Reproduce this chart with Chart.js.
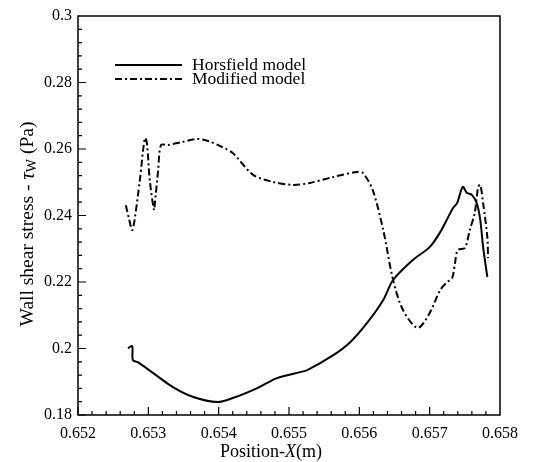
<!DOCTYPE html>
<html>
<head>
<meta charset="utf-8">
<script src="https://cdn.jsdelivr.net/npm/chart.js@4"></script>
<style>
  html, body { margin: 0; padding: 0; background: #fff; }
  #wrap { width: 538px; height: 462px; }
</style>
</head>
<body>
<div id="wrap"><canvas id="wssChart" width="538" height="462"></canvas></div>
<script>
// data
const horsfieldX = [0.65271, 0.65277, 0.65278, 0.65285, 0.65307, 0.65335, 0.65364, 0.65398, 0.65420, 0.65455,
    0.65483, 0.65516, 0.65526, 0.65563, 0.65587, 0.65611, 0.65634, 0.65648, 0.65676, 0.65700,
    0.65715, 0.65733, 0.65739, 0.65747, 0.65753, 0.65760, 0.65767, 0.65772, 0.65776, 0.65782];
const horsfieldY = [0.2001, 0.2007, 0.1965, 0.1959, 0.1926, 0.1884, 0.1854, 0.1839, 0.1851, 0.1881,
    0.1911, 0.1929, 0.1935, 0.1980, 0.2019, 0.2077, 0.2146, 0.2206, 0.2266, 0.2305,
    0.2350, 0.2422, 0.2437, 0.2486, 0.2468, 0.2462, 0.2437, 0.2386, 0.2305, 0.2215];

const modifiedX = [0.65268, 0.65273, 0.65277, 0.65280, 0.65288, 0.65295, 0.65298, 0.65302, 0.65308, 0.65309,
    0.65314, 0.65318, 0.65328, 0.65348, 0.65369, 0.65385, 0.65405, 0.65420, 0.65449, 0.65477,
    0.65506, 0.65530, 0.65563, 0.65597, 0.65605, 0.65619, 0.65634, 0.65648, 0.65662, 0.65683,
    0.65700, 0.65715, 0.65725, 0.65732, 0.65736, 0.65740, 0.65750, 0.65757, 0.65764, 0.65769,
    0.65772, 0.65776, 0.65782, 0.65783];
const modifiedY = [0.2431, 0.2386, 0.2356, 0.2380, 0.2507, 0.2633, 0.2618, 0.2507, 0.2416, 0.2431,
    0.2537, 0.2612, 0.2612, 0.2621, 0.2630, 0.2624, 0.2606, 0.2588, 0.2522, 0.2501,
    0.2492, 0.2498, 0.2516, 0.2531, 0.2528, 0.2477, 0.2356, 0.2206, 0.2116, 0.2062,
    0.2107, 0.2176, 0.2200, 0.2212, 0.2257, 0.2296, 0.2302, 0.2356, 0.2407, 0.2486,
    0.2492, 0.2437, 0.2335, 0.2272];

const xTicks = [0.652, 0.653, 0.654, 0.655, 0.656, 0.657, 0.658];
const xTickLabels = ['0.652', '0.653', '0.654', '0.655', '0.656', '0.657', '0.658'];
const yTicks = [0.18, 0.2, 0.22, 0.24, 0.26, 0.28, 0.3];
const yTickLabels = ['0.18', '0.2', '0.22', '0.24', '0.26', '0.28', '0.3'];

const seriesNames = ['Horsfield model', 'Modified model'];

const serif = "'Liberation Serif', 'Times New Roman', serif";

function toPoints(xs, ys) {
    return xs.map((x, i) => ({ x: x, y: ys[i] }));
}

// frame, inward ticks, axis titles and legend
const decorPlugin = {
    id: 'decor',
    afterDraw(chart) {
        const ctx = chart.ctx;
        const a = chart.chartArea;
        const xs = chart.scales.x;
        const ys = chart.scales.y;
        ctx.save();
        ctx.strokeStyle = '#000';
        ctx.lineWidth = 1.5;
        ctx.strokeRect(a.left, a.top, a.right - a.left, a.bottom - a.top);

        // inward ticks, 4 minor between majors
        ctx.lineWidth = 1.2;
        ctx.beginPath();
        for (let i = 0; i < xTicks.length - 1; i++) {
            for (let k = 0; k < 5; k++) {
                const px = xs.getPixelForValue(xTicks[i] + (xTicks[i + 1] - xTicks[i]) * k / 5);
                const len = k === 0 ? 8 : 4;
                ctx.moveTo(px, a.bottom);
                ctx.lineTo(px, a.bottom - len);
            }
        }
        for (let i = 0; i < yTicks.length - 1; i++) {
            for (let k = 0; k < 5; k++) {
                const py = ys.getPixelForValue(yTicks[i] + (yTicks[i + 1] - yTicks[i]) * k / 5);
                const len = k === 0 ? 8 : 4;
                ctx.moveTo(a.left, py);
                ctx.lineTo(a.left + len, py);
            }
        }
        ctx.stroke();

        ctx.fillStyle = '#000';
        ctx.textBaseline = 'middle';

        // x title: Position-X(m) with italic X
        const parts = [
            { t: 'Position-', f: '18px ' + serif },
            { t: 'X', f: 'italic 18px ' + serif },
            { t: '(m)', f: '18px ' + serif }
        ];
        let total = 0;
        parts.forEach(p => { ctx.font = p.f; total += ctx.measureText(p.t).width; });
        let cx = 271 - total / 2;
        parts.forEach(p => {
            ctx.font = p.f;
            ctx.textAlign = 'left';
            ctx.fillText(p.t, cx, 452);
            cx += ctx.measureText(p.t).width;
        });

        // y title, rotated
        ctx.save();
        ctx.translate(28, 224);
        ctx.rotate(-Math.PI / 2);
        const yparts = [
            { t: 'Wall shear stress - ', f: '19.5px ' + serif, dy: 0 },
            { t: 'τ', f: 'italic 21px ' + serif, dy: 0 },
            { t: 'W', f: '14px ' + serif, dy: 4 },
            { t: ' (Pa)', f: '19.5px ' + serif, dy: 0 }
        ];
        total = 0;
        yparts.forEach(p => { ctx.font = p.f; total += ctx.measureText(p.t).width; });
        cx = -total / 2;
        yparts.forEach(p => {
            ctx.font = p.f;
            ctx.textAlign = 'left';
            ctx.fillText(p.t, cx, p.dy);
            cx += ctx.measureText(p.t).width;
        });
        ctx.restore();

        // legend
        const rows = [65, 79];
        const baselines = [70, 84];
        chart.data.datasets.forEach((ds, i) => {
            ctx.beginPath();
            ctx.lineWidth = ds.borderWidth;
            ctx.setLineDash(ds.borderDash || []);
            ctx.moveTo(115, rows[i]);
            ctx.lineTo(182, rows[i]);
            ctx.stroke();
            ctx.setLineDash([]);
            ctx.font = '17.5px ' + serif;
            ctx.textAlign = 'left';
            ctx.textBaseline = 'alphabetic';
            ctx.fillText(ds.label, 192, baselines[i]);
        });
        ctx.restore();
    }
};

const config = {
    type: 'line',
    data: {
        datasets: [
            {
                label: seriesNames[0],
                data: toPoints(horsfieldX, horsfieldY),
                borderColor: '#000',
                borderWidth: 2,
                pointRadius: 0,
                tension: 0.3,
                fill: false
            },
            {
                label: seriesNames[1],
                data: toPoints(modifiedX, modifiedY),
                borderColor: '#000',
                borderWidth: 2,
                borderDash: [7, 3, 2, 3],
                pointRadius: 0,
                tension: 0.3,
                fill: false
            }
        ]
    },
    options: {
        responsive: false,
        animation: false,
        layout: { padding: { left: 0, top: 16, right: 38, bottom: 0 } },
        plugins: {
            legend: { display: false },
            tooltip: { enabled: false }
        },
        scales: {
            x: {
                type: 'linear',
                min: 0.652,
                max: 0.658,
                afterBuildTicks: axis => { axis.ticks = xTicks.map(v => ({ value: v })); },
                afterFit: axis => { axis.height = 47; },
                grid: { display: false, drawTicks: false },
                border: { display: false },
                ticks: {
                    padding: 9,
                    color: '#000',
                    font: { family: serif, size: 16 },
                    maxRotation: 0,
                    callback: (v) => xTickLabels[xTicks.findIndex(t => Math.abs(t - v) < 1e-7)]
                }
            },
            y: {
                type: 'linear',
                min: 0.18,
                max: 0.3,
                afterBuildTicks: axis => { axis.ticks = yTicks.map(v => ({ value: v })); },
                afterFit: axis => { axis.width = 78; },
                grid: { display: false, drawTicks: false },
                border: { display: false },
                ticks: {
                    padding: 6,
                    color: '#000',
                    font: { family: serif, size: 16 },
                    callback: (v) => yTickLabels[yTicks.findIndex(t => Math.abs(t - v) < 1e-7)]
                }
            }
        }
    },
    plugins: [decorPlugin]
};

new Chart(document.getElementById('wssChart').getContext('2d'), config);
</script>
</body>
</html>
